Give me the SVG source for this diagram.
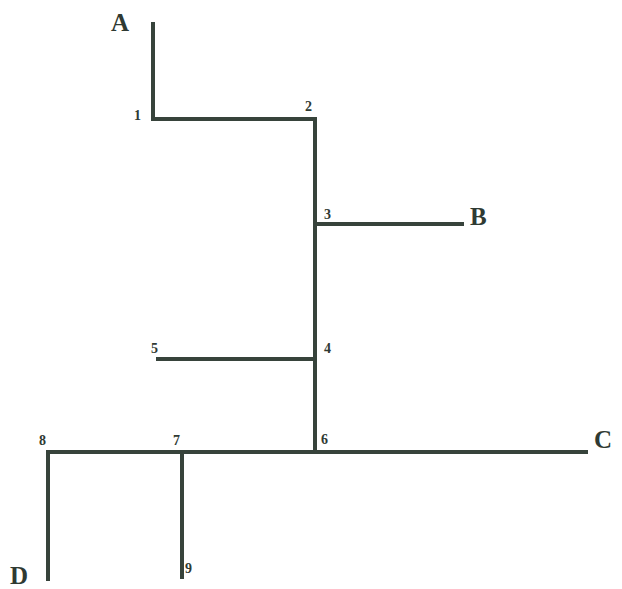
<svg xmlns="http://www.w3.org/2000/svg" width="622" height="589" viewBox="0 0 622 589">
<style>
.ln{stroke:#37433b;stroke-width:4;fill:none;stroke-linecap:square}
.big{font-family:"Liberation Serif",serif;font-weight:bold;font-size:25px;fill:#2f3a33}
.num{font-family:"Liberation Serif",serif;font-weight:bold;font-size:14px;fill:#2f3a33}
</style>
<rect width="622" height="589" fill="#ffffff"/>
<g id="connectors">
<polyline class="ln" points="153,24 153,119 315,119 315,452"/>
<line class="ln" x1="315" y1="224" x2="462" y2="224"/>
<line class="ln" x1="158" y1="359" x2="315" y2="359"/>
<polyline class="ln" points="48,579 48,452 586,452"/>
<line class="ln" x1="182" y1="452" x2="182" y2="577"/>
</g>
<g id="A"><text class="big" x="111" y="31">A</text></g>
<g id="B"><text class="big" x="470" y="225">B</text></g>
<g id="C"><text class="big" x="594" y="448">C</text></g>
<g id="D"><text class="big" x="10" y="584">D</text></g>
<g id="n1"><text class="num" x="134" y="120">1</text></g>
<g id="n2"><text class="num" x="305" y="111">2</text></g>
<g id="n3"><text class="num" x="324" y="219">3</text></g>
<g id="n4"><text class="num" x="324" y="353">4</text></g>
<g id="n5"><text class="num" x="151" y="353">5</text></g>
<g id="n6"><text class="num" x="321" y="444">6</text></g>
<g id="n7"><text class="num" x="173" y="445">7</text></g>
<g id="n8"><text class="num" x="39" y="445">8</text></g>
<g id="n9"><text class="num" x="185" y="573">9</text></g>
</svg>
